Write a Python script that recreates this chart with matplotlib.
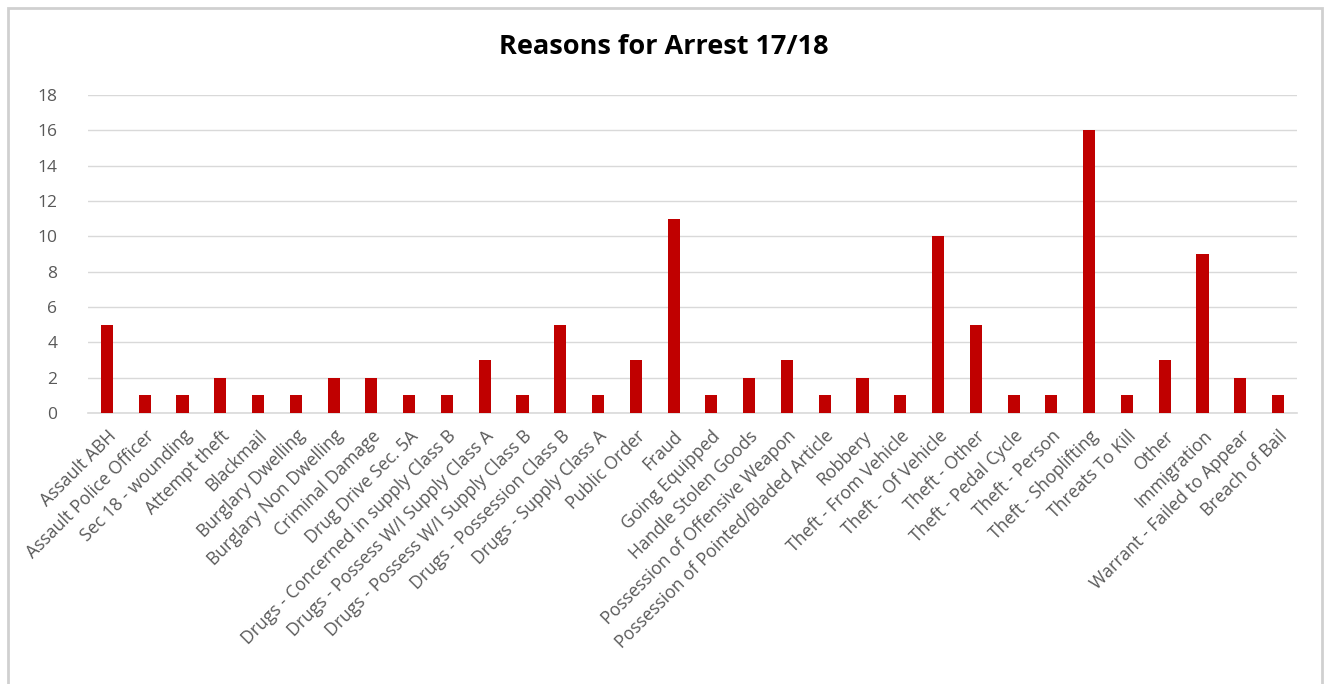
import matplotlib.pyplot as plt
from matplotlib.patches import Rectangle

categories = [
    'Assault ABH', 'Assault Police Officer', 'Sec 18 - wounding', 'Attempt theft',
    'Blackmail', 'Burglary Dwelling', 'Burglary Non Dwelling', 'Criminal Damage',
    'Drug Drive Sec. 5A', 'Drugs - Concerned in supply Class B',
    'Drugs - Possess W/I Supply Class A', 'Drugs - Possess W/I Supply Class B',
    'Drugs - Possession Class B', 'Drugs - Supply Class A', 'Public Order', 'Fraud',
    'Going Equipped', 'Handle Stolen Goods', 'Possession of Offensive Weapon',
    'Possession of Pointed/Bladed Article', 'Robbery', 'Theft - From Vehicle',
    'Theft - Of Vehicle', 'Theft - Other', 'Theft - Pedal Cycle', 'Theft - Person',
    'Theft - Shoplifting', 'Threats To Kill', 'Other', 'Immigration',
    'Warrant - Failed to Appear', 'Breach of Bail',
]
arrests = [5, 1, 1, 2, 1, 1, 2, 2, 1, 1, 3, 1, 5, 1, 3, 11,
           1, 2, 3, 1, 2, 1, 10, 5, 1, 1, 16, 1, 3, 9, 2, 1]
yticks = [0, 2, 4, 6, 8, 10, 12, 14, 16, 18]

plt.rcParams['font.family'] = ['Open Sans', 'DejaVu Sans']

fig = plt.figure(figsize=(13.28, 6.84), dpi=100)
ax = fig.add_axes([0.0663, 0.396, 0.9103, 0.465])

x = range(len(categories))
ax.bar(x, arrests, width=0.32, color='#c00000', zorder=3)

ax.set_xlim(-0.5, len(categories) - 0.5)
ax.set_ylim(0, 18)
ax.set_yticks(yticks)
ax.set_xticks(list(x))
ax.set_xticklabels(categories, rotation=45, ha='right', rotation_mode='anchor',
                   fontsize=12.7, color='#595959')
ax.tick_params(axis='y', labelsize=12.5, colors='#595959', length=0, pad=22)
ax.tick_params(axis='x', length=0, pad=10)
ax.grid(axis='y', color='#d9d9d9', linewidth=1, zorder=0)
for s in ['top', 'right', 'left']:
    ax.spines[s].set_visible(False)
ax.spines['bottom'].set_color('#d9d9d9')
ax.spines['bottom'].set_linewidth(1.2)

fig.text(0.4995, 0.931, 'Reasons for Arrest 17/18', ha='center', va='center',
         fontsize=19.5, fontweight='bold', color='black')

# chart area border
fig.patches.append(Rectangle((8 / 1328, -0.02), 1314 / 1328, 1.0 - 8 / 684 + 0.02,
                             transform=fig.transFigure, fill=False,
                             edgecolor='#d0d0d0', linewidth=2))

fig.savefig('out.png', dpi=100)
